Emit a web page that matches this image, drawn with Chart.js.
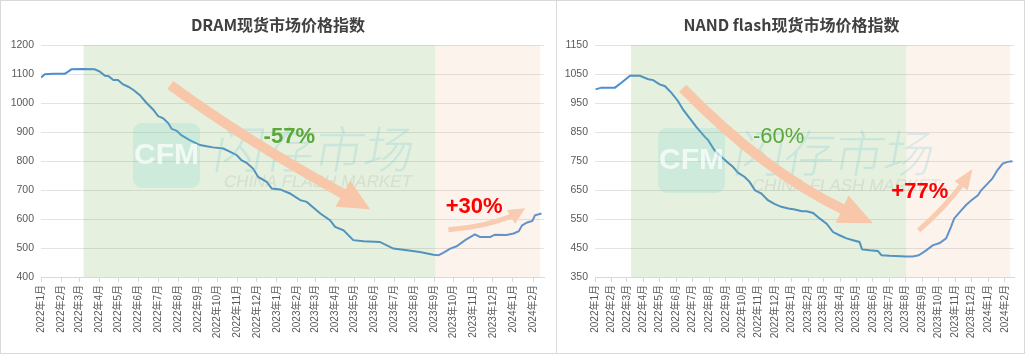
<!DOCTYPE html>
<html><head><meta charset="utf-8">
<script src="https://cdn.jsdelivr.net/npm/chart.js@4.4.1/dist/chart.umd.min.js"></script>
<style>
html,body{margin:0;padding:0;background:#fff;width:1025px;height:354px;overflow:hidden}
canvas{position:absolute;top:0;display:block}
#c1{left:0}
#c2{left:556px}
.frame{position:absolute;top:0;height:354px;box-sizing:border-box;border:1px solid #d9d9d9;pointer-events:none}
#f1{left:0;width:557px}
#f2{left:556px;width:469px}
</style></head><body>
<canvas id="c1" width="556" height="354"></canvas>
<canvas id="c2" width="469" height="354"></canvas>
<div class="frame" id="f1"></div>
<div class="frame" id="f2"></div>
<script>
// ---- tick labels (x axis) ----
const monthLabels = ['2022年1月','2022年2月','2022年3月','2022年4月','2022年5月','2022年6月','2022年7月','2022年8月','2022年9月','2022年10月','2022年11月','2022年12月','2023年1月','2023年2月','2023年3月','2023年4月','2023年5月','2023年6月','2023年7月','2023年8月','2023年9月','2023年10月','2023年11月','2023年12月','2024年1月','2024年2月'];
const monthStarts = ['2022-01-01','2022-02-01','2022-03-01','2022-04-01','2022-05-01','2022-06-01','2022-07-01','2022-08-01','2022-09-01','2022-10-01','2022-11-01','2022-12-01','2023-01-01','2023-02-01','2023-03-01','2023-04-01','2023-05-01','2023-06-01','2023-07-01','2023-08-01','2023-09-01','2023-10-01','2023-11-01','2023-12-01','2024-01-01','2024-02-01'];

// ---- DRAM spot price index ----
const dramDates = ['2022-01-01','2022-01-07','2022-01-20','2022-02-07','2022-02-12','2022-02-17','2022-03-07','2022-03-25','2022-04-02','2022-04-10','2022-04-15','2022-04-23','2022-04-30','2022-05-08','2022-05-16','2022-05-24','2022-06-03','2022-06-13','2022-06-24','2022-07-01','2022-07-09','2022-07-17','2022-07-22','2022-07-30','2022-08-06','2022-08-19','2022-09-04','2022-09-14','2022-09-24','2022-10-10','2022-10-20','2022-10-31','2022-11-07','2022-11-15','2022-11-25','2022-12-03','2022-12-16','2022-12-24','2023-01-06','2023-01-21','2023-02-06','2023-02-16','2023-03-09','2023-03-24','2023-04-01','2023-04-14','2023-04-29','2023-05-15','2023-06-09','2023-06-30','2023-07-21','2023-08-10','2023-08-31','2023-09-08','2023-09-15','2023-09-26','2023-10-06','2023-10-19','2023-11-03','2023-11-11','2023-11-27','2023-12-04','2023-12-22','2024-01-02','2024-01-10','2024-01-15','2024-01-23','2024-01-31','2024-02-04','2024-02-14'];
const dramValues = [1088,1099,1101,1101,1108,1116,1117,1116,1108,1094,1093,1079,1079,1064,1056,1045,1027,1001,976,955,947,930,911,904,889,872,855,851,847,843,832,820,803,794,774,745,728,705,702,688,665,659,619,596,573,561,527,523,521,498,492,486,477,475,483,498,506,527,547,538,538,546,545,550,558,578,588,593,613,619];

// ---- NAND flash spot price index ----
const nandDates = ['2022-01-02','2022-01-13','2022-02-07','2022-02-19','2022-03-07','2022-03-25','2022-04-10','2022-04-19','2022-05-01','2022-05-11','2022-05-23','2022-06-04','2022-06-14','2022-06-26','2022-07-08','2022-07-24','2022-07-30','2022-08-11','2022-08-24','2022-09-05','2022-09-14','2022-09-24','2022-10-06','2022-10-15','2022-10-25','2022-11-06','2022-11-18','2022-12-01','2022-12-13','2022-12-26','2023-01-07','2023-01-20','2023-01-29','2023-02-10','2023-02-22','2023-03-07','2023-03-19','2023-03-31','2023-04-13','2023-04-25','2023-05-07','2023-05-12','2023-05-26','2023-06-10','2023-06-17','2023-07-02','2023-08-02','2023-08-14','2023-08-25','2023-09-08','2023-09-20','2023-10-03','2023-10-15','2023-10-24','2023-10-30','2023-11-12','2023-11-21','2023-12-01','2023-12-13','2023-12-19','2023-12-31','2024-01-09','2024-01-18','2024-01-28','2024-02-06','2024-02-15'];
const nandValues = [997,1003,1003,1020,1044,1044,1032,1029,1014,1008,985,957,926,897,868,833,822,787,764,744,730,709,695,678,649,638,615,601,592,586,583,577,577,571,552,534,505,494,483,477,471,445,442,440,425,423,421,421,425,442,459,467,483,523,552,580,598,615,632,649,672,690,718,741,747,749];

// ---- period bands ----
const dramDown = ['2022-03-08','2023-09-03'];
const dramUp   = ['2023-09-03','2024-02-12'];
const nandDown = ['2022-03-09','2023-08-02'];
const nandUp   = ['2023-08-02','2024-02-11'];

const FONT = "'Liberation Sans','Noto Sans CJK SC',sans-serif";
const CJK = "'Noto Sans CJK SC','Liberation Sans',sans-serif";
const ORIGIN = Date.UTC(2022,0,1);
function dayOf(s){const p=s.split('-');return (Date.UTC(+p[0],+p[1]-1,+p[2])-ORIGIN)/86400000;}
const tickDays = monthStarts.map(dayOf);

function drawArrow(ctx,x,y,a,color){
  const P=q=>({x:x.getPixelForValue(q[0]),y:y.getPixelForValue(q[1])});
  const p0=P(a.p0),p1=P(a.p1),p2=P(a.p2),tip=P(a.tip);
  ctx.save();
  ctx.strokeStyle=color;ctx.fillStyle=color;ctx.lineWidth=a.body;ctx.lineCap='butt';
  ctx.beginPath();ctx.moveTo(p0.x,p0.y);ctx.quadraticCurveTo(p1.x,p1.y,p2.x,p2.y);ctx.stroke();
  const dx=tip.x-p2.x,dy=tip.y-p2.y,L=Math.hypot(dx,dy),nx=-dy/L,ny=dx/L;
  const bx=p2.x-dx/L*3,by=p2.y-dy/L*3;
  ctx.beginPath();ctx.moveTo(tip.x,tip.y);
  ctx.lineTo(bx+nx*a.head,by+ny*a.head);ctx.lineTo(bx-nx*a.head,by-ny*a.head);ctx.closePath();ctx.fill();
  ctx.restore();
}

function decoPlugin(cfg){
  return {id:'deco',
    afterDatasetsDraw(chart){
      const {ctx,chartArea:a,scales:{x,y}}=chart;
      ctx.save();
      cfg.bands.forEach(b=>{
        const x0=x.getPixelForValue(dayOf(b.range[0])),x1=x.getPixelForValue(dayOf(b.range[1]));
        ctx.fillStyle=b.color;ctx.fillRect(x0,a.top,x1-x0,a.bottom-a.top);
      });
      // watermark
      const w=cfg.wm;
      ctx.fillStyle='rgba(90,205,210,0.17)';
      ctx.beginPath();ctx.roundRect(w.bx,w.by,67,65,9);ctx.fill();
      ctx.fillStyle='rgba(255,255,255,0.7)';ctx.font='bold 30px '+FONT;ctx.textAlign='center';ctx.textBaseline='middle';
      ctx.fillText('CFM',w.bx+33.5,w.by+33);
      ctx.save();ctx.translate(w.tx,w.ty);ctx.transform(1,0,-0.18,1,0,0);
      ctx.font='300 50px '+CJK;ctx.textAlign='left';ctx.fillStyle='rgba(110,200,210,0.25)';
      ctx.fillText('闪存市场',0,0);ctx.restore();
      ctx.save();ctx.translate(w.sx,w.sy);ctx.transform(1,0,-0.2,1,0,0);
      ctx.font='17px '+FONT;ctx.textAlign='center';ctx.fillStyle='rgba(150,150,150,0.2)';
      ctx.fillText('CHINA FLASH MARKET',0,0);ctx.restore();
      // arrows
      cfg.arrows.forEach(ar=>drawArrow(ctx,x,y,ar,ar.color));
      // labels
      cfg.labels.forEach(l=>{
        ctx.font=l.weight+' 22px '+FONT;ctx.fillStyle=l.color;ctx.textAlign='center';ctx.textBaseline='middle';
        ctx.fillText(l.text,x.getPixelForValue(l.at[0]),y.getPixelForValue(l.at[1]));
      });
      ctx.restore();
    },
    afterDraw(chart){
      const ctx=chart.ctx;ctx.save();
      ctx.font='bold 16px '+CJK;ctx.fillStyle='#404040';ctx.textAlign='center';ctx.textBaseline='middle';
      ctx.fillText(cfg.title,chart.width/2+cfg.titleDx,25);ctx.restore();
    }
  };
}

function makeChart(id,dates,values,yMin,yMax,yWidth,padRight,cfg){
  new Chart(document.getElementById(id),{
    type:'line',
    data:{datasets:[{data:dates.map((d,i)=>({x:dayOf(d),y:values[i]})),borderColor:'#4a8ed6',borderWidth:2,pointRadius:0,tension:0,fill:false}]},
    options:{
      responsive:false,animation:false,
      layout:{padding:{top:45,right:padRight,left:0,bottom:0}},
      plugins:{legend:{display:false},tooltip:{enabled:false},title:{display:false}},
      scales:{
        x:{type:'linear',min:0,max:778,
          afterBuildTicks:s=>{s.ticks=tickDays.map(v=>({value:v}));},
          afterFit:s=>{s.height=77;},
          grid:{drawOnChartArea:false,drawTicks:true,tickLength:5,color:'#d9d9d9'},
          border:{display:true,color:'#d9d9d9'},
          ticks:{autoSkip:false,maxRotation:90,minRotation:90,padding:3,color:'#595959',font:{family:FONT,size:10},
            callback:(v,i)=>monthLabels[i]}
        },
        y:{min:yMin,max:yMax,
          afterBuildTicks:s=>{const t=[];for(let v=yMin;v<=yMax;v+=100)t.push({value:v});s.ticks=t;},
          afterFit:s=>{s.width=yWidth;},
          grid:{drawTicks:false,color:'#e3e3e3'},
          border:{display:false},
          ticks:{padding:7,color:'#595959',font:{family:FONT,size:10.5},callback:v=>String(v)}
        }
      }
    },
    plugins:[decoPlugin(cfg)]
  });
}

const bigArrow='#f8c6a8', smallArrow='#f9cbb0';
makeChart('c1',dramDates,dramValues,400,1200,41,12,{
  title:'DRAM现货市场价格指数',titleDx:0,
  bands:[{range:dramDown,color:'rgba(112,173,71,0.18)'},{range:dramUp,color:'rgba(244,177,131,0.15)'}],
  wm:{bx:133,by:123,tx:215,ty:149,sx:318,sy:182},
  arrows:[{p0:[200,1062],p1:[316,872],p2:[471,682],tip:[509,634],body:10,head:15,color:bigArrow},
          {p0:[630,563],p1:[687,572],p2:[731,613],tip:[749,637],body:5,head:8,color:smallArrow}],
  labels:[{text:'-57%',at:[384,882],color:'#5aa83a',weight:'bold'},{text:'+30%',at:[670,641],color:'#ff0000',weight:'bold'}]
});
makeChart('c2',nandDates,nandValues,350,1150,39,11,{
  title:'NAND flash现货市场价格指数',titleDx:1,
  bands:[{range:nandDown,color:'rgba(112,173,71,0.18)'},{range:nandUp,color:'rgba(244,177,131,0.15)'}],
  wm:{bx:102,by:128,tx:179,ty:153,sx:290,sy:186},
  arrows:[{p0:[163,1001],p1:[313,715],p2:[464,580],tip:[516,535],body:10,head:15,color:bigArrow},
          {p0:[601,511],p1:[649,587],p2:[683,673],tip:[701,722],body:5,head:8,color:smallArrow}],
  labels:[{text:'-60%',at:[341,832],color:'#5aa83a',weight:'normal'},{text:'+77%',at:[603,642],color:'#ff0000',weight:'bold'}]
});
</script>
</body></html>
